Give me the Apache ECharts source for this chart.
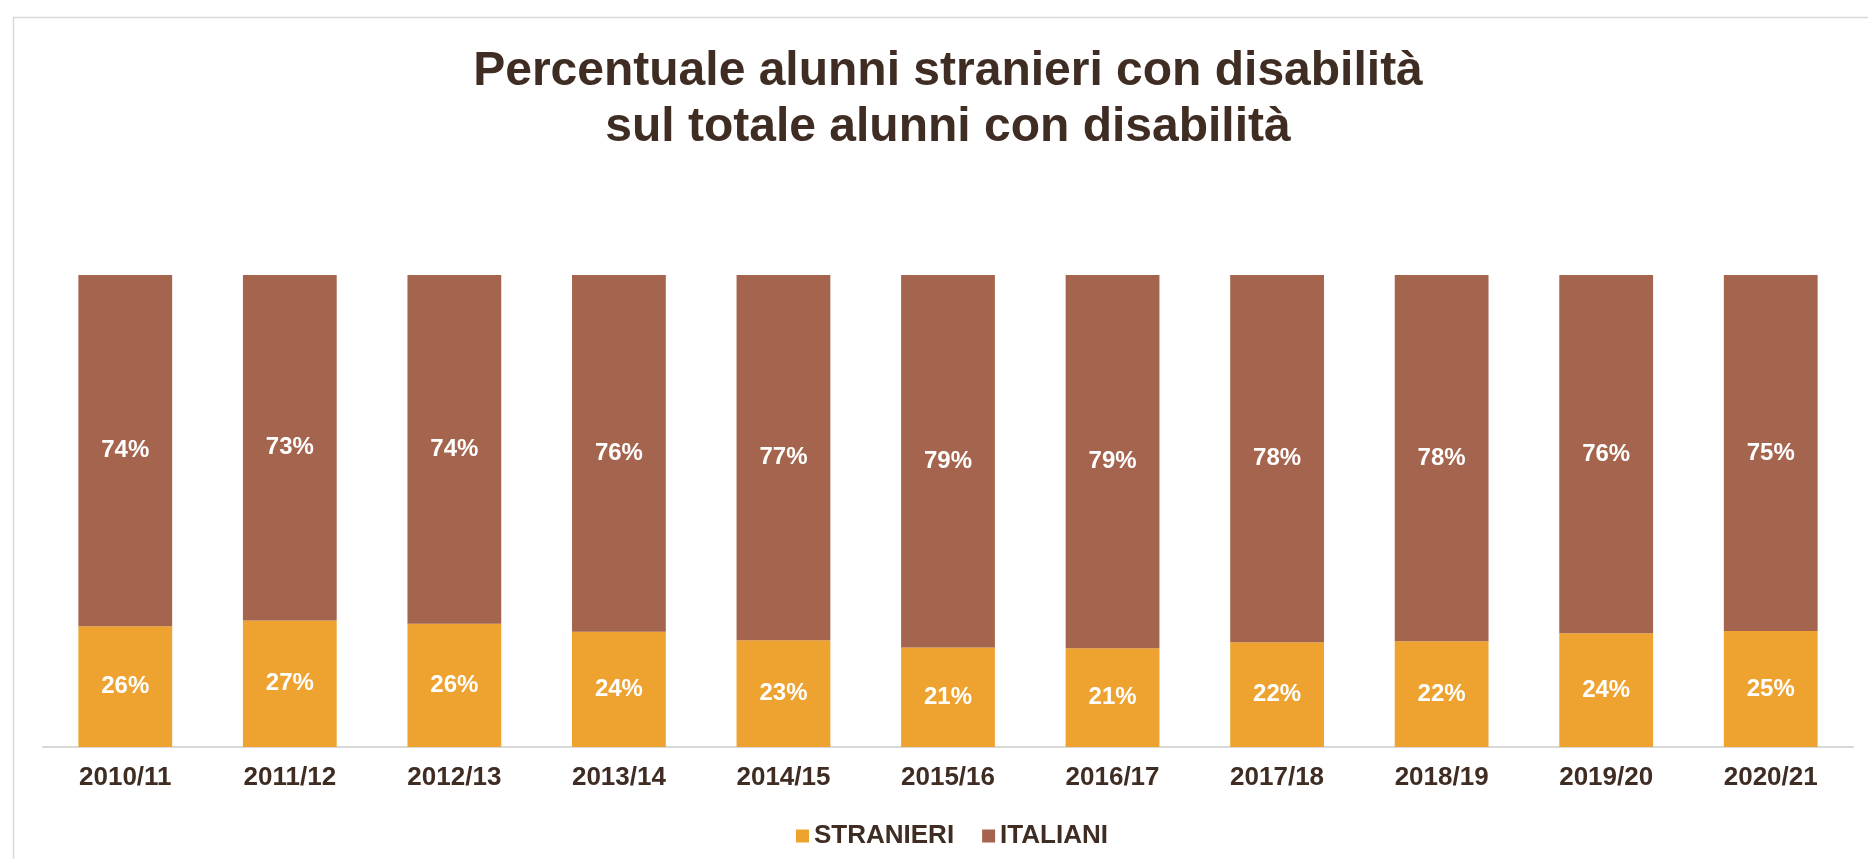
<!DOCTYPE html>
<html>
<head>
<meta charset="utf-8">
<title>Alunni stranieri con disabilità</title>
<script src="https://cdn.jsdelivr.net/npm/echarts@6/dist/echarts.min.js"></script>
<style>
    html, body {
        margin: 0;
        padding: 0;
        background: #ffffff;
    }

    #chart {
        width: 1868px;
        height: 859px;
    }
</style>
</head>
<body>
<div id="chart"></div>
<script>
// anni scolastici
const anni = ['2010/11', '2011/12', '2012/13', '2013/14', '2014/15', '2015/16',
    '2016/17', '2017/18', '2018/19', '2019/20', '2020/21']
// quota percentuale
const stranieri = [25.6, 26.8, 26.1, 24.4, 22.6, 21.1, 20.9, 22.2, 22.4, 24.1, 24.6]
const italiani = [74.4, 73.2, 73.9, 75.6, 77.4, 78.9, 79.1, 77.8, 77.6, 75.9, 75.4]

const font = "'Liberation Sans', Arial, sans-serif"
const testo = '#3f2d24'

const chart = echarts.init(document.getElementById('chart'))

// etichette dentro le barre
const etichetta = {
    show: true,
    position: 'inside',
    color: '#ffffff',
    fontFamily: font,
    fontWeight: 'bold',
    fontSize: 24,
    formatter: p => Math.round(p.value) + '%'
}

const option = {
    animation: false,
    title: {
        text: 'Percentuale alunni stranieri con disabilità\nsul totale alunni con disabilità',
        left: 948,
        top: 44,
        padding: 0,
        textAlign: 'center',
        textStyle: {
            fontFamily: font,
            fontWeight: 'bold',
            fontSize: 48,
            lineHeight: 56,
            color: testo
        }
    },
    // cornice grigia
    graphic: [{
        type: 'rect',
        silent: true,
        shape: { x: 13.5, y: 17.5, width: 3000, height: 3000 },
        style: { fill: 'none', stroke: '#d9d9d9', lineWidth: 1.5 }
    }],
    legend: {
        data: ['STRANIERI', 'ITALIANI'],
        left: 791,
        top: 818,
        itemWidth: 13,
        itemHeight: 13,
        itemGap: 28,
        icon: 'rect',
        textStyle: {
            fontFamily: font,
            fontWeight: 'bold',
            fontSize: 26,
            color: testo
        }
    },
    grid: {
        left: 43,
        right: 15,
        top: 275,
        bottom: 112
    },
    xAxis: {
        type: 'category',
        data: anni,
        axisTick: { show: false },
        axisLine: {
            lineStyle: { color: '#d9d9d9', width: 2 }
        },
        axisLabel: {
            margin: 18,
            interval: 0,
            fontFamily: font,
            fontWeight: 'bold',
            fontSize: 26,
            color: testo
        }
    },
    yAxis: {
        type: 'value',
        min: 0,
        max: 100,
        show: false,
        splitLine: { show: false }
    },
    series: [
        {
            name: 'STRANIERI',
            type: 'bar',
            stack: 'totale',
            barCategoryGap: '43%',
            data: stranieri,
            itemStyle: { color: '#eea22f' },
            label: etichetta
        },
        {
            name: 'ITALIANI',
            type: 'bar',
            stack: 'totale',
            barCategoryGap: '43%',
            data: italiani,
            itemStyle: { color: '#a5644e' },
            label: etichetta
        }
    ]
}

chart.setOption(option)
</script>
</body>
</html>
